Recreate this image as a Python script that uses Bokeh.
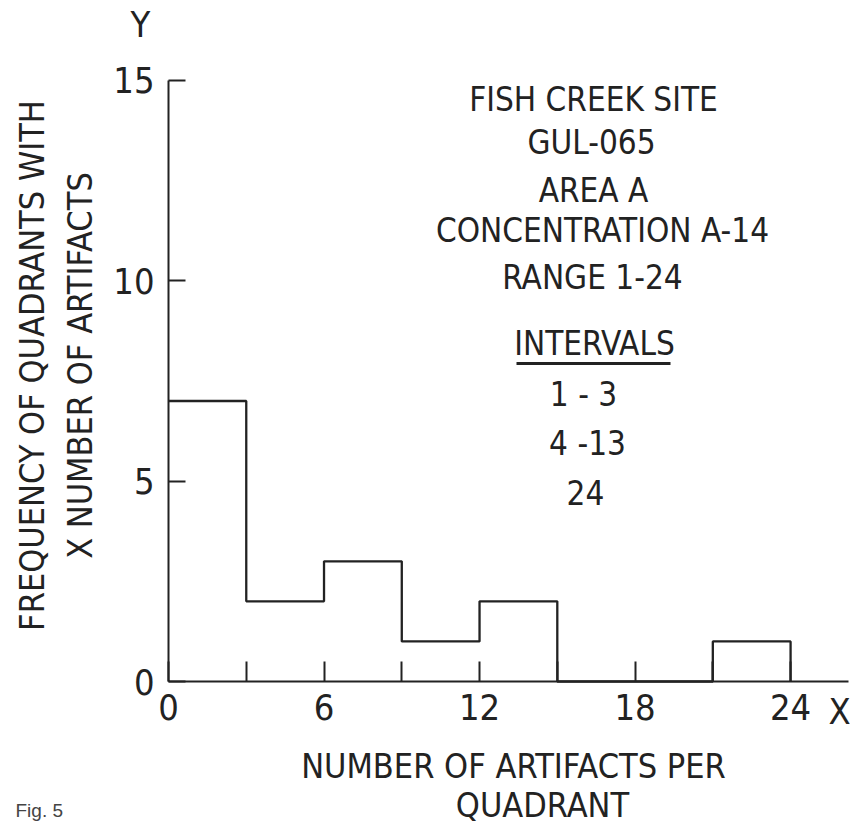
import math
from bokeh.plotting import figure
from bokeh.models import Range1d, FixedTicker, Label
from bokeh.embed import file_html
from bokeh.resources import INLINE

# ---------------- data ----------------
bin_edges = [0, 3, 6, 9, 12, 15, 18, 21, 24]
counts = [7, 2, 3, 1, 2, 0, 0, 1]
x_major_ticks = [0, 6, 12, 18, 24]
x_minor_ticks = [3, 9, 15, 21]
y_major_ticks = [0, 5, 10, 15]
title_lines = ["FISH CREEK SITE", "GUL-065", "AREA A", "CONCENTRATION A-14", "RANGE 1-24"]
interval_header = "INTERVALS"
interval_lines = ["1 - 3", "4 -13", "24"]
x_label_lines = ["NUMBER OF ARTIFACTS PER", "QUADRANT"]
y_label_lines = ["FREQUENCY OF QUADRANTS WITH", "X NUMBER OF ARTIFACTS"]
caption = "Fig. 5"

# ---------------- style / layout ----------------
FONT = "DejaVu Sans Condensed, DejaVu Sans, sans-serif"
INK = "#222222"
W, H = 850, 823
X0_PX, Y0_PX = 168, 681          # pixel position of data origin
PX_PER_X, PX_PER_Y = 25.92, 40.07
X_AXIS_END = 26.23
Y_AXIS_END = 15

def dx(px):
    return (px - X0_PX) / PX_PER_X
def dy(py):
    return (Y0_PX - py) / PX_PER_Y

p = figure(width=W, height=H, output_backend="svg", toolbar_location=None,
           x_range=Range1d(dx(0), dx(W)), y_range=Range1d(dy(H), dy(0)),
           min_border_left=0, min_border_right=0,
           min_border_top=0, min_border_bottom=0)
p.outline_line_color = None
p.xgrid.visible = False
p.ygrid.visible = False
p.background_fill_color = "white"
p.border_fill_color = "white"

# axes drawn at the data origin
xa = p.xaxis[0]
xa.fixed_location = 0
xa.bounds = (0, X_AXIS_END)
xa.ticker = FixedTicker(ticks=x_major_ticks, minor_ticks=x_minor_ticks)
xa.major_tick_in = 20
xa.major_tick_out = 0
xa.minor_tick_in = 20
xa.minor_tick_out = 0
xa.major_label_standoff = 12
ya = p.yaxis[0]
ya.fixed_location = 0
ya.bounds = (0, Y_AXIS_END)
ya.ticker = FixedTicker(ticks=y_major_ticks)
ya.major_tick_in = 17
ya.major_tick_out = 0
ya.minor_tick_in = 0
ya.minor_tick_out = 0
ya.major_label_standoff = 14
for ax in (xa, ya):
    ax.axis_line_width = 2
    ax.axis_line_color = INK
    ax.major_tick_line_width = 2
    ax.major_tick_line_color = INK
    ax.minor_tick_line_width = 2
    ax.minor_tick_line_color = INK
    ax.major_label_text_font = FONT
    ax.major_label_text_font_size = "36px"
    ax.major_label_text_color = INK

# histogram outline (step)
p.step(x=bin_edges, y=counts + [0], mode="after", line_width=2.3, line_color=INK)

def add_label(text, px, py, align="center", size="34px", angle=0.0, font=FONT, color=INK):
    # (px, py) = pixel position of the text's horizontal anchor / vertical centre
    p.add_layout(Label(x=dx(px), y=dy(py), text=text, text_font=font,
                       text_font_size=size, text_align=align,
                       text_baseline="middle", text_color=color,
                       angle=angle, angle_units="rad"))

# title block (centre x, centre y in pixels)
TS = "33px"
title_pos = [(593, 99), (591, 142), (593, 190), (602, 230), (592, 277)]
for t, (px, py) in zip(title_lines, title_pos):
    add_label(t, px, py, size=TS)
add_label(interval_header, 594, 343, size=TS)
p.segment(x0=dx(516), y0=dy(363), x1=dx(670), y1=dy(363), line_width=3, line_color=INK)
int_pos = [(583, 394), (587, 443), (585, 492)]
for t, (px, py) in zip(interval_lines, int_pos):
    add_label(t, px, py, size=TS)

# axis titles
add_label(x_label_lines[0], 513, 765)
add_label(x_label_lines[1], 542, 804)
add_label(y_label_lines[0], 31, 365, angle=math.pi / 2)
add_label(y_label_lines[1], 79, 365, angle=math.pi / 2)
add_label("Y", 140, 24, size="36px")
add_label("X", 839, 711, size="36px")

# caption
add_label(caption, 15, 810, align="left", size="19px",
          font="Liberation Sans, Arial, sans-serif", color="#444444")

open("out.html", "w").write(file_html(p, INLINE))
